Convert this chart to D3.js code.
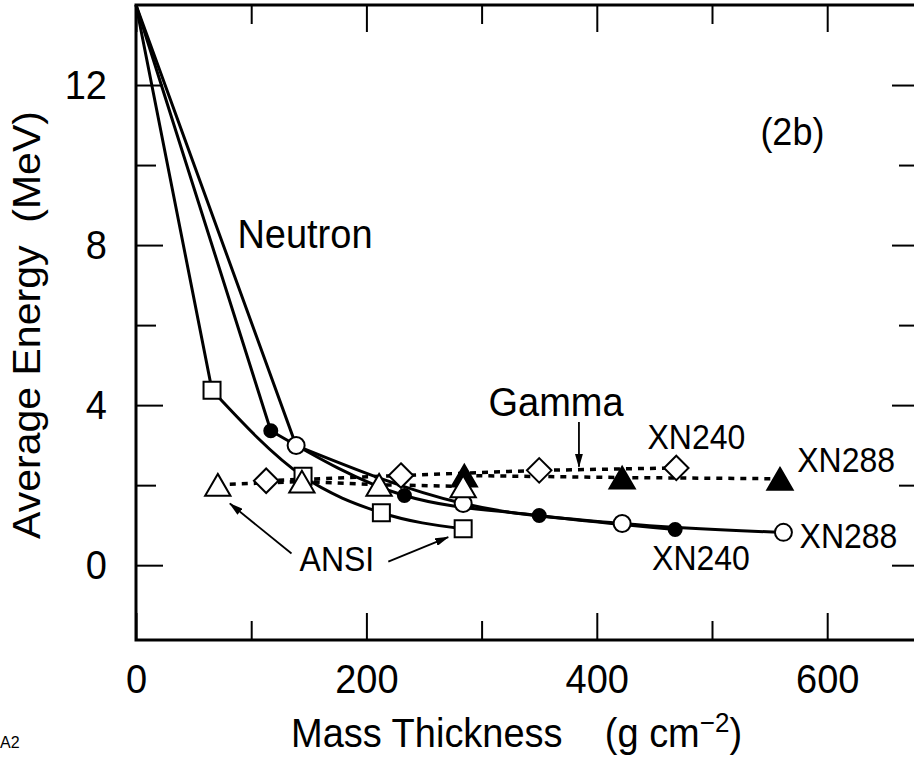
<!DOCTYPE html>
<meta charset="utf-8">
<style>
body { margin: 0; background: #fff; }
text { font-family: "Liberation Sans", Arial, Helvetica, sans-serif; fill: #000; }
.frame { fill: none; stroke: #000; stroke-width: 3; }
.axis line { stroke: #000; stroke-width: 2; }
.axis path { display: none; }
.neutron { fill: none; stroke: #000; stroke-width: 3; }
.gamma { fill: none; stroke: #000; stroke-width: 3.5; stroke-dasharray: 6,6; }
.arrow { stroke: #000; stroke-width: 1.8; }
</style>
<body>
<svg width="914" height="761"></svg>
<script src="https://d3js.org/d3.v7.min.js"></script>
<script>

// all neutron curves start from the source energy at zero thickness
var origin = [0, 14];

// Neutron average energy (MeV) vs mass thickness (g cm-2)
var ansiThick = [66, 145, 213, 284],
    ansiNeutron = [4.37, 2.22, 1.31, 0.91];
var xn240Thick = [117, 233, 350, 468],
    xn240Neutron = [3.36, 1.74, 1.24, 0.89];
var xn288Thick = [139, 284, 422, 562],
    xn288Neutron = [2.99, 1.54, 1.04, 0.82];

// Gamma average energy
var ansiGammaThick = [71, 144, 211, 284],
    ansiGamma = [2.01, 2.09, 2.01, 1.97];
var xn240GammaThick = [113, 230, 350, 469],
    xn240Gamma = [2.11, 2.24, 2.37, 2.43];
var xn288GammaThick = [285, 422, 559],
    xn288Gamma = [2.24, 2.19, 2.16];

// ticks
var xMajor = [0, 200, 400, 600],
    xMinor = [100, 300, 500],
    yMajor = [0, 4, 8, 12],
    yMinor = [2, 6, 10];

var stretch = 1.08; // the figure's lettering is a little tall

var svg = d3.select("svg"),
    margin = {top: 5, right: -3, bottom: 121, left: 136},
    width = +svg.attr("width") - margin.left - margin.right,
    height = +svg.attr("height") - margin.top - margin.bottom;

var x = d3.scaleLinear().domain([0, width / 1.152]).range([0, width]),
    y = d3.scaleLinear().domain([-1.87, 14]).range([height, 0]);

var g = svg.append("g")
    .attr("transform", "translate(" + margin.left + "," + margin.top + ")");

function zip(xs, ys) { return xs.map(function(v, i) { return [v, ys[i]]; }); }

// custom symbols
var triangle = {
  draw: function(ctx, size) {
    var w = Math.sqrt(size), h = w * 0.86;
    ctx.moveTo(0, -h / 2);
    ctx.lineTo(w / 2, h / 2);
    ctx.lineTo(-w / 2, h / 2);
    ctx.closePath();
  }
};
var rhombus = {
  draw: function(ctx, size) {
    var r = Math.sqrt(size) / 2;
    ctx.moveTo(0, -r);
    ctx.lineTo(r, 0);
    ctx.lineTo(0, r);
    ctx.lineTo(-r, 0);
    ctx.closePath();
  }
};

// axes
function style(sel) {
  sel.selectAll("text")
      .attr("font-size", 38)
      .attr("font-family", '"Liberation Sans", Arial, sans-serif')
      .attr("transform", "scale(1," + stretch + ")");
}
g.append("g").attr("class", "axis")
    .call(d3.axisLeft(y).tickValues(yMajor).tickSizeInner(-27).tickSizeOuter(0).tickPadding(29))
    .call(style);
g.append("g").attr("class", "axis")
    .call(d3.axisLeft(y).tickValues(yMinor).tickSizeInner(-20).tickSizeOuter(0).tickFormat(""));
g.append("g").attr("class", "axis")
    .attr("transform", "translate(0," + height + ")")
    .call(d3.axisBottom(x).tickValues(xMajor).tickSizeInner(-27).tickSizeOuter(0).tickPadding(22))
    .call(style);
g.append("g").attr("class", "axis")
    .attr("transform", "translate(0," + height + ")")
    .call(d3.axisBottom(x).tickValues(xMinor).tickSizeInner(-19).tickSizeOuter(0).tickFormat(""));
g.append("g").attr("class", "axis")
    .call(d3.axisTop(x).tickValues(xMajor).tickSizeInner(-27).tickSizeOuter(0).tickFormat(""));
g.append("g").attr("class", "axis")
    .call(d3.axisTop(x).tickValues(xMinor).tickSizeInner(-19).tickSizeOuter(0).tickFormat(""));
g.append("g").attr("class", "axis")
    .attr("transform", "translate(" + width + ",0)")
    .call(d3.axisRight(y).tickValues(yMajor).tickSizeInner(-25).tickSizeOuter(0).tickFormat(""));
g.append("g").attr("class", "axis")
    .attr("transform", "translate(" + width + ",0)")
    .call(d3.axisRight(y).tickValues(yMinor).tickSizeInner(-18).tickSizeOuter(0).tickFormat(""));

g.append("rect").attr("class", "frame")
    .attr("width", width).attr("height", height);

// lines: straight drop from the origin to the first point, smooth after it
var smooth = d3.line()
    .x(function(d) { return x(d[0]); })
    .y(function(d) { return y(d[1]); })
    .curve(d3.curveMonotoneX);
var straight = d3.line()
    .x(function(d) { return x(d[0]); })
    .y(function(d) { return y(d[1]); });

[[ansiThick, ansiNeutron], [xn240Thick, xn240Neutron], [xn288Thick, xn288Neutron]].forEach(function(s) {
  var pts = zip(s[0], s[1]);
  g.append("path").attr("class", "neutron")
      .attr("d", straight([origin, pts[0]]) + smooth(pts).replace(/^M/, "L"));
});
[[ansiGammaThick, ansiGamma], [xn240GammaThick, xn240Gamma], [xn288GammaThick, xn288Gamma]].forEach(function(s) {
  g.append("path").attr("class", "gamma")
      .attr("d", straight(zip(s[0], s[1])));
});

// markers
function points(xs, ys, type, size, fill) {
  g.selectAll(null)
    .data(zip(xs, ys))
    .enter().append("path")
      .attr("transform", function(d) { return "translate(" + x(d[0]) + "," + y(d[1]) + ")"; })
      .attr("d", d3.symbol().type(type).size(size))
      .attr("fill", fill)
      .attr("stroke", "#000")
      .attr("stroke-width", 2);
}
points(ansiThick, ansiNeutron, d3.symbolSquare, 289, "#fff");
points(xn240Thick, xn240Neutron, d3.symbolCircle, 133, "#000");
points(xn288Thick, xn288Neutron, d3.symbolCircle, 227, "#fff");
points(xn240GammaThick, xn240Gamma, rhombus, 600, "#fff");
points(xn288GammaThick, xn288Gamma, triangle, 640, "#000");
points(ansiGammaThick, ansiGamma, triangle, 640, "#fff");

// arrows
svg.append("defs").append("marker")
    .attr("id", "head")
    .attr("markerUnits", "userSpaceOnUse")
    .attr("viewBox", "0 0 14 8")
    .attr("markerWidth", 14).attr("markerHeight", 8)
    .attr("refX", 13).attr("refY", 4)
    .attr("orient", "auto")
  .append("path").attr("d", "M0,0L14,4L0,8Z").attr("fill", "#000");

var arrows = [
  [[135, 0.29], [81.5, 1.54]],
  [[219, 0.09], [271, 0.70]],
  [[384.5, 3.58], [384.5, 2.46]]
];
arrows.forEach(function(a) {
  g.append("line").attr("class", "arrow")
      .attr("x1", x(a[0][0])).attr("y1", y(a[0][1]))
      .attr("x2", x(a[1][0])).attr("y2", y(a[1][1]))
      .attr("marker-end", "url(#head)");
});

// labels
var labels = [
  {t: "Neutron", x: 88, y: 7.93, s: 38},
  {t: "Gamma", x: 306, y: 3.72, s: 38},
  {t: "XN240", x: 444, y: 2.91, s: 32},
  {t: "XN288", x: 574, y: 2.34, s: 32},
  {t: "XN288", x: 576, y: 0.44, s: 32},
  {t: "XN240", x: 448, y: -0.11, s: 32},
  {t: "ANSI", x: 142, y: -0.15, s: 32},
  {t: "(2b)", x: 542, y: 10.49, s: 36}
];
labels.forEach(function(l) {
  g.append("text")
      .attr("transform", "translate(" + x(l.x) + "," + y(l.y) + ") scale(1," + stretch + ")")
      .attr("font-size", l.s)
      .text(l.t);
});

// axis titles
var xt = svg.append("text")
    .attr("transform", "translate(291,747) scale(1," + stretch + ")")
    .attr("font-size", 38)
    .style("white-space", "pre");
xt.append("tspan").text("Mass Thickness    (g cm");
xt.append("tspan").attr("font-size", 26).attr("dy", -14).text("\u22122");
xt.append("tspan").attr("dy", 14).text(")");

svg.append("text")
    .attr("transform", "translate(40,325) rotate(-90) scale(" + stretch + ",1)")
    .attr("text-anchor", "middle")
    .attr("font-size", 38)
    .style("white-space", "pre")
    .text("Average Energy  (MeV)");

svg.append("text")
    .attr("x", 0).attr("y", 748)
    .attr("font-size", 16)
    .text("A2");

</script>
